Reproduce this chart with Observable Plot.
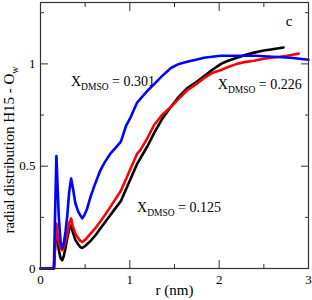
<!DOCTYPE html>
<html>
<head>
<meta charset="utf-8">
<script src="https://cdn.jsdelivr.net/npm/d3@7"></script>
<script src="https://cdn.jsdelivr.net/npm/@observablehq/plot@0.6"></script>
<style>
  html, body { margin: 0; padding: 0; background: #fff; }
  #chart { width: 312px; height: 300px; }
  #chart svg, #chart svg text { font-family: 'Liberation Serif', 'Times New Roman', serif !important; }
</style>
</head>
<body>
<div id="chart"></div>
<script>
// ---- data ----
const rBlack = [0,0.15,0.165,0.178,0.19,0.205,0.225,0.243,0.26,0.28,0.30,0.32,0.343,0.36,0.39,0.42,0.445,0.467,0.5,0.56,0.62,0.67,0.72,0.78,0.84,0.90,0.96,1.01,1.08,1.12,1.2,1.27,1.36,1.46,1.55,1.64,1.74,1.83,1.92,2.02,2.1,2.2,2.3,2.39,2.5,2.58,2.65,2.72];
const gBlack = [0,0,0.12,0.20,0.14,0.09,0.05,0.04,0.06,0.10,0.15,0.19,0.21,0.18,0.14,0.12,0.105,0.10,0.11,0.135,0.165,0.195,0.225,0.26,0.295,0.33,0.39,0.44,0.51,0.54,0.60,0.66,0.73,0.79,0.84,0.88,0.91,0.94,0.97,1.0,1.015,1.03,1.045,1.055,1.065,1.07,1.075,1.08];

const rRed = [0,0.15,0.165,0.178,0.19,0.205,0.225,0.243,0.26,0.28,0.30,0.32,0.343,0.36,0.39,0.42,0.445,0.467,0.5,0.56,0.62,0.67,0.72,0.78,0.84,0.90,0.96,1.01,1.08,1.12,1.2,1.27,1.36,1.46,1.55,1.64,1.74,1.83,1.92,2.02,2.1,2.2,2.3,2.39,2.5,2.58,2.68,2.76,2.89];
const gRed = [0,0,0.12,0.22,0.17,0.13,0.10,0.09,0.10,0.13,0.17,0.22,0.245,0.21,0.17,0.15,0.135,0.13,0.14,0.17,0.20,0.23,0.26,0.30,0.34,0.38,0.44,0.49,0.56,0.58,0.64,0.70,0.75,0.79,0.83,0.87,0.90,0.93,0.955,0.97,0.985,1.0,1.01,1.015,1.025,1.03,1.035,1.04,1.05];

const rBlue = [0,0.15,0.165,0.178,0.19,0.205,0.225,0.243,0.26,0.28,0.30,0.32,0.343,0.36,0.39,0.42,0.445,0.467,0.49,0.52,0.56,0.60,0.67,0.72,0.78,0.84,0.90,0.96,1.01,1.08,1.12,1.2,1.27,1.36,1.46,1.55,1.64,1.74,1.83,1.92,2.02,2.2,2.4,2.6,2.8,3.0];
const gBlue = [0,0,0.30,0.55,0.42,0.25,0.13,0.10,0.12,0.18,0.26,0.37,0.44,0.40,0.32,0.28,0.26,0.245,0.26,0.29,0.35,0.40,0.48,0.52,0.56,0.59,0.62,0.70,0.74,0.81,0.83,0.87,0.90,0.94,0.98,1.0,1.01,1.02,1.03,1.035,1.04,1.04,1.04,1.035,1.03,1.02];

const seriesNames = ["0.125", "0.226", "0.301"];
const seriesColors = ["#000000", "#ff0000", "#0000ff"];

const xMajor = [0, 1, 2, 3];
const xMinor = [0.5, 1.5, 2.5];
const yMajor = [0, 0.5, 1];
const yMinor = [0.25, 0.75, 1.25];

// annotation anchors (data coordinates) for the X_DMSO labels
const annoR = [1.086, 1.99, 0.347];
const annoG = [0.273, 0.875, 0.888];

const xLabel = "r (nm)";
const yLabelMain = "radial distribution H15 - O";
const yLabelSub = "w";
const panelLabel = "c";

// ---- build tables ----
function table(rs, gs, name) { return rs.map((r, i) => ({r, g: gs[i], s: name})); }
const data = [
  ...table(rBlack, gBlack, seriesNames[0]),
  ...table(rRed, gRed, seriesNames[1]),
  ...table(rBlue, gBlue, seriesNames[2])
];

const font = "'Liberation Serif', 'Times New Roman', serif";
const axisColor = "#333";

const plot = Plot.plot({
  width: 312,
  height: 300,
  marginLeft: 40,
  marginRight: 4,
  marginTop: 2,
  marginBottom: 32,
  style: {fontFamily: font, fontSize: "12px", background: "#fff", color: "#000"},
  x: {domain: [0, 3]},
  y: {domain: [0, 1.3]},
  color: {domain: seriesNames, range: seriesColors},
  marks: [
    Plot.line(data, {x: "r", y: "g", z: "s", stroke: "s", strokeWidth: 2.6, strokeLinejoin: "round"}),
    Plot.frame({stroke: axisColor, strokeWidth: 1.2}),
    // inward ticks, all four sides
    Plot.axisX(xMajor, {anchor: "bottom", tickSize: -8, fill: "none", label: null, stroke: axisColor}),
    Plot.axisX(xMinor, {anchor: "bottom", tickSize: -4, fill: "none", label: null, stroke: axisColor}),
    Plot.axisX(xMajor, {anchor: "top", tickSize: -8, fill: "none", label: null, stroke: axisColor}),
    Plot.axisX(xMinor, {anchor: "top", tickSize: -4, fill: "none", label: null, stroke: axisColor}),
    Plot.axisY(yMajor, {anchor: "left", tickSize: -8, fill: "none", label: null, stroke: axisColor}),
    Plot.axisY(yMinor, {anchor: "left", tickSize: -4, fill: "none", label: null, stroke: axisColor}),
    Plot.axisY(yMajor, {anchor: "right", tickSize: -8, fill: "none", label: null, stroke: axisColor}),
    Plot.axisY(yMinor, {anchor: "right", tickSize: -4, fill: "none", label: null, stroke: axisColor}),
    // tick labels
    Plot.axisX(xMajor, {anchor: "bottom", tickSize: 0, tickPadding: 6, label: null, fontSize: 13, tickFormat: d => String(d)}),
    Plot.axisY(yMajor, {anchor: "left", tickSize: 0, tickPadding: 5, label: null, fontSize: 13, tickFormat: d => String(d)}),
    // axis label and panel letter
    Plot.text([xLabel], {frameAnchor: "bottom", text: d => d, dy: 26, fontSize: 15}),
    Plot.text([panelLabel], {frameAnchor: "top-right", text: d => d, dx: -16, dy: 13, fontSize: 15})
  ]
});

document.getElementById("chart").appendChild(plot);

// ---- texts with subscripts ----
const svg = d3.select(plot);
const xs = plot.scale("x"), ys = plot.scale("y");

const yl = svg.append("text")
  .attr("transform", "translate(14,150) rotate(-90)")
  .attr("text-anchor", "middle")
  .attr("font-family", font)
  .attr("font-size", 15)
  .attr("fill", "#000");
yl.append("tspan").text(yLabelMain);
yl.append("tspan").attr("font-size", 10).attr("dy", 4).text(yLabelSub);

seriesNames.forEach((name, i) => {
  const t = svg.append("text")
    .attr("x", xs.apply(annoR[i]))
    .attr("y", ys.apply(annoG[i]))
    .attr("text-anchor", "start")
    .attr("font-family", font)
    .attr("font-size", 14)
    .attr("fill", "#000");
  t.append("tspan").text("X");
  t.append("tspan").attr("font-size", 9.5).attr("dy", 4).text("DMSO");
  t.append("tspan").attr("dy", -4).text(" = " + name);
});
</script>
</body>
</html>
